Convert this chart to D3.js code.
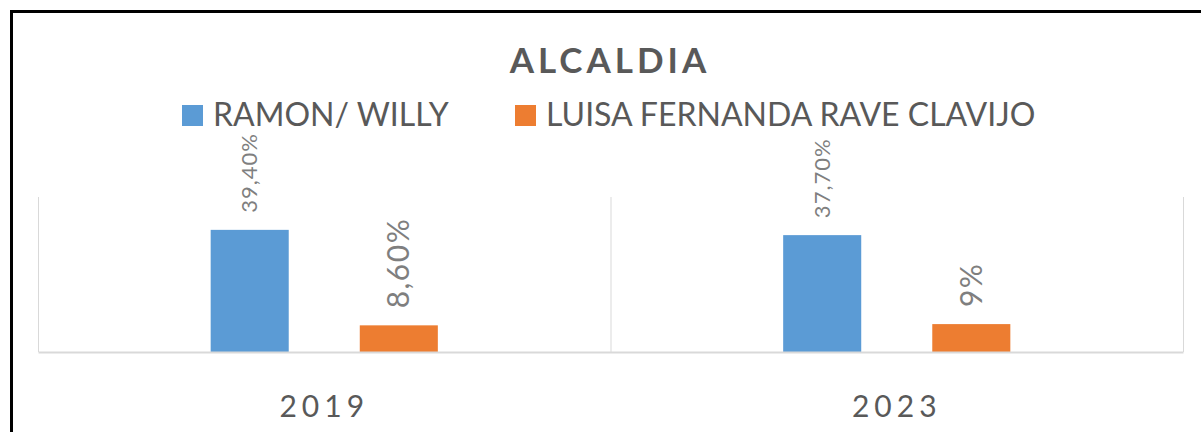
<!DOCTYPE html>
<html>
<head>
<meta charset="utf-8">
<script src="https://cdn.jsdelivr.net/npm/d3@7"></script>
<style>
  body { margin: 0; background: #fff; }
  svg { display: block; font-family: Lato, "Open Sans", sans-serif; }
</style>
</head>
<body>
<svg id="chart"></svg>
<script>
// data
const years = ["2019", "2023"];
const seriesNames = ["RAMON/ WILLY", "LUISA FERNANDA RAVE CLAVIJO"];
const seriesColors = ["#5b9bd5", "#ed7d31"];
const ramonWilly = [0.394, 0.377];
const luisaRave = [0.086, 0.09];
const ramonLabels = ["39,40%", "37,70%"];
const luisaLabels = ["8,60%", "9%"];

const width = 1201, height = 432;
const plot = { left: 38, right: 1183, top: 197, bottom: 352 };

const svg = d3.select("#chart")
    .attr("width", width)
    .attr("height", height);

// outer frame (only top and left edges are visible)
svg.append("rect")
    .attr("x", 11.5)
    .attr("y", 11.5)
    .attr("width", 1400)
    .attr("height", 600)
    .attr("fill", "none")
    .attr("stroke", "#000")
    .attr("stroke-width", 3);

// build rows for the bars
const rows = [];
years.forEach((year, i) => {
    rows.push({ year: year, series: seriesNames[0], value: ramonWilly[i], label: ramonLabels[i], size: 22, ls: 1 });
    rows.push({ year: year, series: seriesNames[1], value: luisaRave[i], label: luisaLabels[i], size: 30, ls: 1.5 });
});

// scales
const x0 = d3.scaleBand()
    .domain(years)
    .range([plot.left, plot.right])
    .padding(0);

const x1 = d3.scaleBand()
    .domain(seriesNames)
    .range([0, x0.bandwidth()])
    .paddingInner(0.4765)
    .paddingOuter(1.158);

const y = d3.scaleLinear()
    .domain([0, 0.5])
    .range([plot.bottom, plot.top]);

const color = d3.scaleOrdinal()
    .domain(seriesNames)
    .range(seriesColors);

// title
svg.append("text")
    .attr("x", 610)
    .attr("y", 73)
    .attr("text-anchor", "middle")
    .style("font-size", "35px")
    .style("font-weight", 700)
    .style("letter-spacing", "4px")
    .style("fill", "#595959")
    .text("ALCALDIA");

// legend
const legendX = [182, 515];
const legend = svg.append("g").attr("class", "legend");
seriesNames.forEach((name, i) => {
    legend.append("rect")
        .attr("x", legendX[i])
        .attr("y", 105)
        .attr("width", 21)
        .attr("height", 21)
        .attr("fill", color(name));
    legend.append("text")
        .attr("x", legendX[i] + 31)
        .attr("y", 126)
        .style("font-size", "32px")
        .style("fill", "#595959")
        .text(name);
});

// category separators (vertical gridlines)
const chart = svg.append("g").attr("class", "chart");
const edges = years.map(d => x0(d)).concat([plot.right]);
chart.selectAll(".sep")
    .data(edges)
    .enter()
    .append("line")
    .attr("class", "sep")
    .attr("x1", d => d + 0.5)
    .attr("x2", d => d + 0.5)
    .attr("y1", plot.top)
    .attr("y2", plot.bottom)
    .style("stroke", "#d9d9d9")
    .style("stroke-width", 1);

// bars
chart.selectAll(".bar")
    .data(rows)
    .enter()
    .append("rect")
    .attr("class", "bar")
    .attr("x", d => x0(d.year) + x1(d.series))
    .attr("y", d => y(d.value))
    .attr("width", x1.bandwidth())
    .attr("height", d => y(0) - y(d.value))
    .attr("fill", d => color(d.series));

// baseline axis
const xAxis = d3.axisBottom(x0).tickSize(0).tickPadding(44);
const xAxisG = svg.append("g")
    .attr("class", "axis x-axis")
    .attr("transform", `translate(0,${plot.bottom})`)
    .call(xAxis);
xAxisG.select(".domain")
    .attr("stroke", "#d9d9d9")
    .attr("stroke-width", 2);
xAxisG.selectAll("text")
    .style("font-family", "Lato, 'Open Sans', sans-serif")
    .style("font-size", "30px")
    .style("letter-spacing", "5px")
    .style("fill", "#595959");

// data labels, rotated
chart.selectAll(".label")
    .data(rows)
    .enter()
    .append("text")
    .attr("class", "label")
    .attr("transform", d => `translate(${x0(d.year) + x1(d.series) + x1.bandwidth() / 2},${y(d.value) - 17}) rotate(-90)`)
    .attr("dy", "0.35em")
    .attr("text-anchor", "start")
    .style("font-size", d => d.size + "px")
    .style("letter-spacing", d => d.ls + "px")
    .style("fill", "#7f7f7f")
    .text(d => d.label);
</script>
</body>
</html>
